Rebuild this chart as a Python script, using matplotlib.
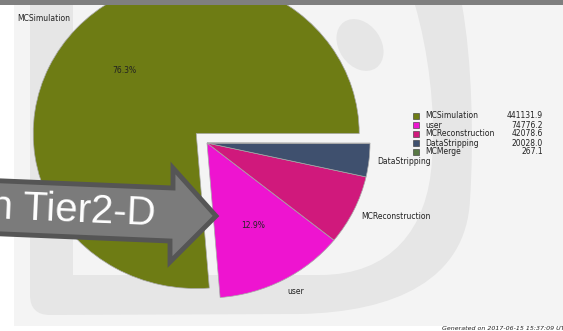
import numpy as np
import matplotlib
matplotlib.use("Agg")
import matplotlib.pyplot as plt
from matplotlib.patches import Rectangle, Ellipse, PathPatch, Polygon
from matplotlib.path import Path

# Data
names = ["MCSimulation", "user", "MCReconstruction", "DataStripping", "MCMerge"]
values = [441131.9, 74776.2, 42078.6, 20028.0, 267.1]
colors = ["#6e7c14", "#ee14d0", "#d0197c", "#3f506e", "#5a7a46"]
footer = "Generated on 2017-06-15 15:37:09 UTC"
banner = "n Tier2-D"

W, H = 563, 331
fig = plt.figure(figsize=(W / 100, H / 100), dpi=100)
fig.patch.set_facecolor("white")

# background layer in pixel coords (y down)
bg = fig.add_axes([0, 0, 1, 1], zorder=0)
bg.set_xlim(0, W)
bg.set_ylim(H, 0)
bg.axis("off")
bg.add_patch(Rectangle((14, 5), W - 14, 321, color="#f4f4f4", lw=0))

# watermark logo
verts = [(30, 5), (30, 295), (30, 315), (50, 315), (300, 314),
         (395, 312), (466, 280), (470, 200),
         (474, 140), (472, 60), (462, 5),
         (415, 5),
         (428, 50), (436, 110), (432, 160),
         (428, 230), (390, 275), (320, 275),
         (73, 275), (73, 5), (30, 5)]
codes = [Path.MOVETO, Path.LINETO, Path.CURVE3, Path.CURVE3, Path.LINETO,
         Path.CURVE4, Path.CURVE4, Path.CURVE4,
         Path.CURVE4, Path.CURVE4, Path.CURVE4,
         Path.LINETO,
         Path.CURVE4, Path.CURVE4, Path.CURVE4,
         Path.CURVE4, Path.CURVE4, Path.CURVE4,
         Path.LINETO, Path.LINETO, Path.CLOSEPOLY]
bg.add_patch(PathPatch(Path(verts, codes), facecolor="#e6e6e6", lw=0))
bg.add_patch(Ellipse((360, 45), 42, 56, angle=-35, color="#e6e6e6", lw=0))

# pie, centre at (207,143) px, slightly wider than tall
cx, cy, rx, ry = 207, 143, 163, 155
ax = fig.add_axes([(cx - 1.25 * rx) / W, (H - cy - 1.25 * ry) / H,
                   2.5 * rx / W, 2.5 * ry / H], zorder=1)
total = sum(values)
labels = [n if v / total > 0.01 else "" for n, v in zip(names, values)]
explode = [0.09] + [0] * (len(values) - 1)
wedges, texts, autotexts = ax.pie(
    values, labels=labels, colors=colors, explode=explode, startangle=0,
    autopct=lambda p: f"{p:.1f}%" if p > 10 else "",
    pctdistance=0.6, labeldistance=1.05,
    wedgeprops=dict(edgecolor="#a8a8a8", linewidth=0.5),
    textprops=dict(fontsize=5.5, color="#222222"))
# labels sit on a rounder ring than the squashed pie
for t in texts:
    x, y = t.get_position()
    t.set_position((x, y * 1.035))
ax.set_aspect("auto")
ax.set_xlim(-1.25, 1.25)
ax.set_ylim(-1.25, 1.25)
ax.axis("off")

# overlay layer
top = fig.add_axes([0, 0, 1, 1], zorder=2)
top.set_xlim(0, W)
top.set_ylim(H, 0)
top.axis("off")
top.patch.set_alpha(0)
top.add_patch(Rectangle((0, 0), W, 5, color="#7f7f7f", lw=0))

# banner arrow
arrow = [(-20, 180), (173, 188), (173, 168), (216, 216), (170, 262), (170, 241), (-20, 233)]
top.add_patch(Polygon(arrow, closed=True, facecolor="#7b7b7b", edgecolor="#555555",
                      lw=3.5, joinstyle="miter"))
top.text(156, 214, banner, ha="right", va="center", fontsize=29, color="white",
         family="Liberation Sans", rotation=-2.5, rotation_mode="anchor")

# legend
for i, (n, v, c) in enumerate(zip(names, values, colors)):
    y = 116 + 9 * i
    top.add_patch(Rectangle((413, y - 3), 6, 6, facecolor=c, edgecolor="#333333", lw=0.4))
    top.text(425, y, n, ha="left", va="center", fontsize=5.5, color="#222222")
    top.text(543, y, f"{v:.1f}", ha="right", va="center", fontsize=5.5, color="#222222")

top.text(442, 328, footer, ha="left", va="center", fontsize=4.5, style="italic", color="#222222")

fig.savefig("out.png", dpi=100)
